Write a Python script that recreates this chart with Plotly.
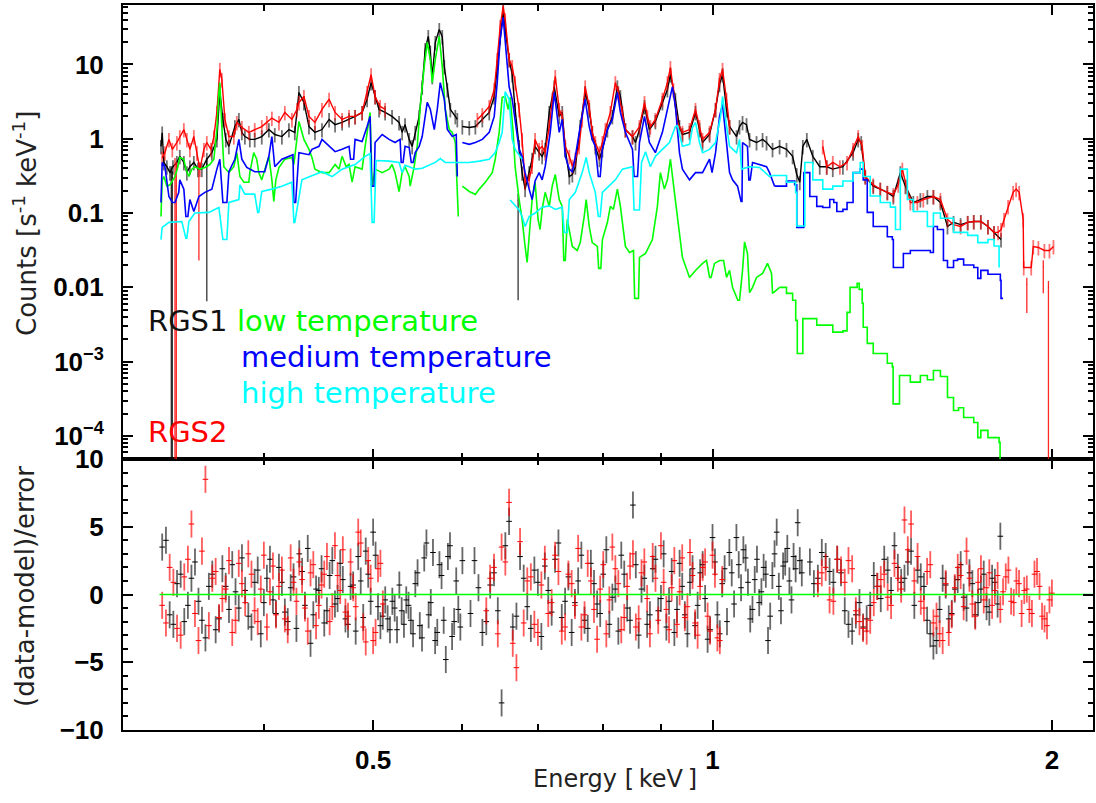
import math
import plotly.graph_objects as go

# ---------------- data (energy keV, counts s^-1 keV^-1) ----------------
rgs1 = [(0.3242,0.79),(0.3250,1.20),(0.3261,0.48),(0.3281,0.42),(0.3302,0.35),(0.3322,0.42),(0.3349,0.48),(0.3369,0.58),(0.3397,0.48),(0.3418,0.35),(0.3439,0.42),(0.3467,0.48),(0.3496,0.39),(0.3524,0.39),(0.3560,0.53),(0.3597,0.65),(0.3634,0.98),(0.3656,4.3),(0.3679,1.82),(0.3701,0.98),(0.3724,0.79),(0.3770,1.46),(0.3801,1.82),(0.3824,1.22),(0.3848,1.07),(0.3887,0.98),(0.3926,0.98),(0.3983,1.07),(0.4041,1.33),(0.4090,1.14),(0.4150,1.07),(0.4210,1.33),(0.4261,1.22),(0.4297,4.2),(0.4341,3.08),(0.4386,1.46),(0.4440,1.22),(0.4504,1.33),(0.4570,1.82),(0.4626,1.55),(0.4693,1.66),(0.4760,1.82),(0.4819,2.0),(0.4889,2.26),(0.4939,3.4),(0.4979,5.7),(0.5020,3.7),(0.5061,2.48),(0.5124,2.26),(0.5197,2.0),(0.5272,1.66),(0.5305,1.22),(0.5337,1.55),(0.5382,0.98),(0.5415,0.79),(0.5449,1.22),(0.5493,2.0),(0.5527,5.0),(0.5561,15.9),(0.5596,23.8),(0.5619,14.7),(0.5642,6.9),(0.5677,19.8),(0.5723,29.6),(0.5758,23.8),(0.5782,9.4),(0.5818,4.6),(0.5854,2.48),(0.5914,2.0),(0.5938,1.82),(None,None),(0.5999,1.46),(0.6085,1.42),(0.6161,1.46),(0.6249,1.82),(0.6338,2.26),(0.6403,3.7),(0.6442,9.4),(0.6481,23.8),(0.6521,52),(0.6548,29.6),(0.6601,11.7),(0.6642,7.3),(0.6682,2.48),(0.6737,0.79),(0.6778,0.35),(0.6820,0.21),(0.6876,0.35),(0.6918,0.53),(0.6960,0.79),(0.7018,0.65),(0.7061,0.58),(0.7105,0.72),(0.7164,2.26),(0.7238,5.0),(0.7312,2.0),(0.7357,2.26),(0.7403,0.72),(0.7464,0.31),(0.7510,0.33),(0.7557,0.42),(0.7632,1.46),(0.7710,4.2),(0.7774,2.48),(0.7822,1.22),(0.7871,0.79),(0.7937,0.53),(0.7986,0.72),(0.8068,1.33),(0.8150,2.0),(0.8234,5.0),(0.8285,3.7),(0.8370,1.33),(0.8492,1.07),(0.8545,0.89),(0.8614,1.33),(0.8703,2.72),(0.8790,1.33),(0.8898,1.71),(0.9027,3.08),(0.9120,4.6),(0.9176,7.3),(0.9270,3.4),(0.9347,1.46),(0.9404,1.14),(0.9541,1.22),(0.9658,2.26),(0.9738,1.33),(0.9798,0.89),(0.9939,1.14),(1.0062,2.48),(1.0144,5.4),(1.0207,7.3),(1.0290,2.48),(1.0354,1.46),(1.0503,1.07),(1.0567,1.46),(1.0632,1.66),(1.0719,1.55),(1.0786,0.98),(1.0940,0.89),(1.1076,0.98),(1.1166,0.89),(1.1304,0.72),(1.1468,0.79),(1.1631,0.72),(1.1777,0.58),(1.1877,0.33),(1.1951,0.26),(1.2025,0.79),(1.2124,0.98),(1.2273,0.58),(1.2448,0.42),(1.2627,0.42),(1.2784,0.39),(1.3051,0.42),(1.3325,0.65),(1.3465,0.98),(1.3548,0.89),(1.3660,0.31),(1.3885,0.23),(1.4086,0.21),(1.4290,0.19),(1.4467,0.167),(1.4675,0.35),(1.4827,0.23),(1.5070,0.139),(1.5288,0.152),(1.5508,0.167),(1.5700,0.167),(1.5927,0.139),(1.6158,0.066),(1.6359,0.075),(1.6597,0.070),(1.6839,0.075),(1.7049,0.077),(1.7297,0.077),(1.7550,0.066),(1.7770,0.055),(1.8026,0.044)]

rgs2 = [(0.3250,0.55),(0.3268,0.65),(0.3295,0.98),(0.3318,0.72),(0.3349,0.89),(0.3369,1.07),(0.3397,1.33),(0.3418,0.98),(0.3439,0.72),(0.3467,1.07),(0.3489,0.65),(0.3510,0.39),(0.3539,0.72),(0.3560,0.89),(0.3590,0.72),(0.3612,1.07),(0.3634,2.26),(0.3656,8.6),(0.3671,6.3),(0.3694,1.82),(0.3724,1.07),(0.3762,1.07),(0.3785,1.66),(0.3824,1.42),(0.3879,1.22),(0.3926,1.33),(0.3983,1.46),(0.4024,1.66),(0.4066,1.9),(0.4125,1.66),(0.4175,2.26),(0.4236,1.82),(0.4279,2.48),(0.4297,3.08),(0.4341,3.7),(0.4386,2.0),(0.4440,1.66),(0.4504,2.48),(0.4570,3.4),(0.4626,2.26),(0.4693,1.82),(0.4760,2.0),(0.4819,2.0),(0.4889,2.26),(0.4939,4.2),(0.4979,7.3),(0.5020,3.7),(0.5072,2.72),(0.5124,2.48),(None,None),(0.6186,1.82),(0.6249,2.12),(0.6338,2.72),(0.6403,4.6),(0.6442,11.7),(0.6481,32.5),(0.6521,60),(0.6548,40),(0.6601,11.7),(0.6642,9.4),(0.6682,5.7),(0.6737,2.48),(0.6778,0.98),(0.6820,0.26),(0.6876,0.28),(0.6918,0.43),(0.6960,0.98),(0.7018,0.72),(0.7061,0.79),(0.7105,0.65),(0.7164,1.46),(0.7208,3.4),(0.7253,6.9),(0.7312,2.48),(0.7357,2.0),(0.7403,0.79),(0.7464,0.58),(0.7510,0.43),(0.7557,0.53),(0.7616,0.79),(0.7663,1.82),(0.7710,5.0),(0.7774,2.72),(0.7822,1.22),(0.7871,0.89),(0.7937,0.65),(0.7986,0.89),(0.8035,1.33),(0.8117,2.26),(0.8200,5.7),(0.8251,4.2),(0.8319,2.26),(0.8370,1.33),(0.8492,1.07),(0.8614,1.46),(0.8703,3.08),(0.8755,2.0),(0.8808,1.46),(0.8898,1.82),(0.9027,3.4),(0.9120,5.7),(0.9176,9.1),(0.9232,4.6),(0.9308,1.66),(0.9404,1.22),(0.9541,1.33),(0.9658,2.48),(0.9738,1.46),(0.9798,0.98),(0.9939,1.22),(1.0062,2.48),(1.0144,6.3),(1.0207,8.6),(1.0290,3.4),(1.0354,1.46),(None,None),(1.2525,0.79),(1.2627,0.42),(1.2784,0.48),(1.2971,0.42),(1.3162,0.48),(1.3325,0.72),(1.3465,1.07),(1.3576,0.79),(1.3660,0.31),(1.3885,0.24),(1.4086,0.21),(1.4290,0.19),(1.4467,0.178),(1.4615,0.24),(1.4735,0.39),(1.4857,0.23),(1.4978,0.139),(1.5194,0.139),(1.5380,0.152),(1.5700,0.167),(1.5927,0.152),(1.6158,0.082),(1.6359,0.070),(1.6597,0.066),(1.6839,0.075),(1.7049,0.077),(1.7297,0.077),(1.7550,0.066),(1.7770,0.055),(1.7917,0.055),(1.8026,0.060),(1.8137,0.082),(1.8287,0.123),(1.8476,0.19),(1.8590,0.21),(1.8706,0.19),(1.8860,0.082),(1.8880,0.0185),(1.9172,0.0185),(1.9252,0.0355),(1.9455,0.0344),(1.9694,0.0314),(1.9899,0.0314),(2.0063,0.0355)]

# points with very long lower error bars: (energy, value, lower end)
rgs1_long = [(0.3311,0.35,1e-5),(0.3318,0.30,1e-5),(0.3560,0.45,0.0065),(0.6723,0.15,0.0067)]
rgs2_long = [(0.3336,0.45,1e-5),(0.3345,0.40,1e-5),(0.3503,0.40,0.023),(1.9000,0.011,0.0045),(1.9650,0.019,0.0083),(1.9858,0.010,1e-5)]

low_T = [(0.3242,0.09),(0.3250,0.28),(0.3261,0.31),(0.3281,0.23),(0.3302,0.24),(0.3336,0.31),(0.3356,0.42),(0.3369,0.56),(0.3397,0.53),(0.3411,0.39),(0.3432,0.31),(0.3453,0.39),(0.3474,0.42),(0.3510,0.39),(0.3546,0.41),(0.3582,0.45),(0.3612,0.53),(0.3634,1.33),(0.3649,4.2),(0.3656,5.7),(0.3671,1.46),(0.3686,0.42),(0.3724,0.35),(0.3762,0.42),(0.3785,0.65),(0.3809,0.31),(0.3840,0.26),(0.3879,0.26),(0.3887,0.35),(0.3918,0.65),(0.3942,0.53),(0.3959,0.35),(0.3983,0.28),(0.4007,0.39),(0.4041,0.58),(0.4066,0.28),(0.4082,0.143),(0.4099,0.28),(0.4125,0.41),(0.4175,0.53),(0.4236,0.56),(0.4253,0.45),(0.4297,1.71),(0.4341,0.98),(0.4386,0.72),(0.4413,0.56),(0.4440,0.39),(0.4504,0.35),(0.4570,0.35),(0.4626,0.45),(0.4664,0.39),(0.4693,0.58),(0.4732,0.42),(0.4760,0.45),(0.4790,0.26),(0.4819,0.42),(0.4889,0.39),(0.4919,0.79),(0.4959,2.12),(0.4969,2.26),(0.4990,0.23),(0.5020,0.39),(0.5093,0.35),(0.5166,0.39),(0.5197,0.45),(0.5229,0.35),(0.5272,0.195),(0.5305,0.35),(0.5337,0.42),(0.5382,0.31),(0.5393,0.23),(0.5437,0.42),(0.5471,0.79),(0.5505,2.72),(0.5550,9.4),(0.5584,19.8),(0.5619,11.7),(0.5642,5.7),(0.5677,11.7),(0.5723,23.8),(0.5758,9.4),(0.5794,2.48),(0.5842,1.33),(0.5878,1.22),(0.5914,0.89),(0.5950,0.09),(None,None),(0.5999,0.23),(0.6085,0.195),(0.6161,0.178),(0.6210,0.21),(0.6287,0.26),(0.6377,0.35),(0.6416,0.53),(0.6468,1.22),(0.6508,3.6),(0.6548,3.7),(0.6588,2.48),(0.6615,3.6),(0.6655,1.22),(0.6682,0.42),(0.6737,0.152),(0.6778,0.082),(0.6820,0.0355),(0.6848,0.0216),(0.6876,0.048),(0.6918,0.152),(0.6960,0.26),(0.7003,0.082),(0.7032,0.060),(0.7061,0.112),(0.7105,0.19),(0.7164,0.123),(0.7208,0.23),(0.7253,0.33),(0.7312,0.152),(0.7357,0.123),(0.7380,0.023),(0.7403,0.023),(0.7433,0.082),(0.7510,0.0355),(0.7586,0.0314),(0.7632,0.040),(0.7695,0.09),(0.7726,0.152),(0.7774,0.066),(0.7822,0.040),(0.7904,0.0355),(0.7925,0.018),(0.7960,0.018),(0.7986,0.044),(0.8068,0.075),(0.8117,0.123),(0.8167,0.112),(0.8234,0.21),(0.8285,0.123),(0.8370,0.0355),(0.8440,0.0295),(0.8509,0.0314),(0.8530,0.0071),(0.8597,0.0071),(0.8614,0.0253),(0.8721,0.0286),(0.8844,0.044),(0.8935,0.123),(0.8990,0.35),(0.9064,0.21),(0.9120,0.28),(0.9176,0.53),(0.9251,0.19),(0.9347,0.055),(0.9404,0.0253),(0.9541,0.0136),(0.9658,0.0169),(0.9798,0.021),(0.9878,0.023),(0.9940,0.0136),(0.9970,0.0136),(1.0041,0.021),(1.0144,0.023),(1.0228,0.023),(1.0290,0.0136),(1.0354,0.0169),(1.0417,0.0100),(1.0530,0.0067),(1.0567,0.0067),(1.0632,0.0169),(1.0676,0.041),(1.0740,0.0286),(1.0786,0.0085),(1.0852,0.010),(1.0940,0.0136),(1.1076,0.0154),(1.1189,0.021),(1.1281,0.0154),(1.1304,0.0083),(1.1468,0.0100),(1.1631,0.0083),(1.1777,0.0067),(1.1852,0.0036),(1.1890,0.00129),(1.2000,0.00129),(1.2025,0.0038),(1.2372,0.0031),(1.2784,0.0025),(1.3051,0.0026),(1.3162,0.0046),(1.3243,0.0100),(1.3436,0.0113),(1.3492,0.0094),(1.3576,0.0061),(1.3604,0.0029),(1.3716,0.00176),(1.3885,0.00129),(1.4290,0.00095),(1.4437,0.00085),(1.4460,0.00027),(1.4615,0.00027),(1.4650,0.00065),(1.4978,0.00053),(1.5288,0.00065),(1.5508,0.00057),(1.5700,0.00076),(1.5927,0.00063),(1.6158,0.00033),(1.6359,0.00022),(1.6528,0.00024),(1.6700,0.000177),(1.7049,0.000152),(1.7190,0.000095),(1.7297,0.000119),(1.7550,0.000095),(1.7954,0.000082),(1.7990,0.00001)]

medium_T = [(0.3242,0.139),(0.3250,0.48),(0.3268,0.42),(0.3295,0.167),(0.3318,0.139),(0.3336,0.139),(0.3362,0.19),(0.3369,0.28),(0.3397,0.21),(0.3411,0.09),(0.3425,0.09),(0.3439,0.152),(0.3467,0.105),(0.3503,0.167),(0.3546,0.19),(0.3597,0.21),(0.3634,0.39),(0.3656,0.53),(0.3679,0.139),(0.3709,0.139),(0.3724,0.36),(0.3770,0.53),(0.3801,0.98),(0.3824,0.53),(0.3863,0.41),(0.3926,0.36),(0.4007,0.36),(0.4041,0.58),(0.4066,1.07),(0.4090,0.42),(0.4150,0.53),(0.4245,0.61),(0.4253,0.139),(0.4268,0.139),(0.4297,0.65),(0.4386,0.61),(0.4413,0.72),(0.4477,0.79),(0.4504,0.98),(0.4598,0.72),(0.4626,0.67),(0.4693,0.72),(0.4760,0.79),(0.4775,0.53),(0.4805,0.53),(0.4819,0.98),(0.4889,0.92),(0.4939,1.46),(0.4969,2.0),(0.4985,0.23),(0.5010,0.23),(0.5020,0.89),(0.5093,1.14),(0.5166,0.98),(0.5229,0.89),(0.5283,0.98),(0.5295,0.48),(0.5315,0.48),(0.5337,0.79),(0.5382,0.76),(0.5405,0.48),(0.5425,0.48),(0.5449,0.65),(0.5493,0.79),(0.5527,1.07),(0.5584,3.08),(0.5619,2.5),(0.5665,1.33),(0.5700,2.5),(0.5735,5.7),(0.5782,3.4),(0.5818,1.33),(0.5878,1.07),(0.5925,1.14),(0.5938,0.31),(None,None),(0.5999,0.89),(0.6085,0.84),(0.6161,0.89),(0.6249,0.98),(0.6338,1.22),(0.6403,2.0),(0.6442,5.7),(0.6481,21.9),(0.6521,43),(0.6548,22),(0.6601,5.0),(0.6642,3.4),(0.6682,1.66),(0.6737,0.72),(0.6778,0.58),(0.6820,0.35),(0.6876,0.21),(0.6918,0.152),(0.6960,0.27),(0.7018,0.35),(0.7061,0.28),(0.7105,0.42),(0.7179,1.22),(0.7238,4.2),(0.7312,1.22),(0.7357,1.82),(0.7403,0.58),(0.7464,0.39),(0.7510,0.36),(0.7557,0.58),(0.7632,1.46),(0.7710,3.4),(0.7774,1.46),(0.7822,0.98),(0.7871,0.79),(0.7920,0.31),(0.7950,0.31),(0.7986,0.72),(0.8068,1.33),(0.8150,1.82),(0.8234,4.2),(0.8285,2.26),(0.8370,1.22),(0.8492,0.72),(0.8520,0.31),(0.8580,0.31),(0.8614,0.89),(0.8703,2.0),(0.8790,0.89),(0.8898,0.65),(0.9027,1.22),(0.9158,3.4),(0.9213,5.0),(0.9270,2.72),(0.9347,0.65),(0.9404,0.39),(0.9541,0.28),(0.9658,0.35),(0.9798,0.35),(0.9939,0.53),(0.9990,0.35),(1.0062,0.65),(1.0144,2.0),(1.0207,2.9),(1.0290,0.98),(1.0354,0.35),(1.0417,0.28),(1.0524,0.23),(1.0600,0.143),(1.0620,0.143),(1.0632,0.89),(1.0740,0.79),(1.0770,0.28),(1.0800,0.28),(1.0852,0.48),(1.1007,0.45),(1.1166,0.42),(1.1235,0.35),(1.1351,0.23),(1.1631,0.27),(1.1827,0.24),(1.1877,0.064),(1.2025,0.064),(1.2050,0.35),(1.2198,0.167),(1.2372,0.123),(1.2525,0.119),(1.2705,0.152),(1.2810,0.139),(1.2890,0.105),(1.3051,0.112),(1.3162,0.139),(1.3325,0.35),(1.3520,0.39),(1.3604,0.28),(1.3716,0.102),(1.3885,0.066),(1.4290,0.048),(1.4437,0.044),(1.4467,0.0185),(1.4675,0.0185),(1.4766,0.0286),(1.4978,0.0314),(1.5604,0.0295),(1.5700,0.066),(1.5829,0.060),(1.6025,0.023),(1.6158,0.0185),(1.6359,0.023),(1.6494,0.024),(1.6700,0.020),(1.7049,0.0185),(1.7190,0.0132),(1.7297,0.0169),(1.7550,0.015),(1.8000,0.0124),(1.8026,0.0071),(1.8100,0.0071)]

high_T = [(0.3242,0.044),(0.3250,0.064),(0.3295,0.075),(0.3383,0.077),(0.3411,0.046),(0.3418,0.046),(0.3432,0.077),(0.3474,0.100),(0.3575,0.102),(0.3649,0.119),(0.3679,0.044),(0.3709,0.044),(0.3724,0.139),(0.3801,0.152),(0.3809,0.24),(0.3848,0.18),(0.3926,0.18),(0.3950,0.102),(0.3959,0.102),(0.3983,0.195),(0.4066,0.21),(0.4150,0.23),(0.4236,0.26),(0.4253,0.075),(0.4261,0.075),(0.4323,0.28),(0.4440,0.33),(0.4504,0.36),(0.4598,0.31),(0.4693,0.39),(0.4819,0.45),(0.4919,0.58),(0.4969,0.63),(0.4990,0.075),(0.5010,0.075),(0.5030,0.51),(0.5166,0.50),(0.5272,0.48),(0.5305,0.35),(0.5337,0.44),(0.5382,0.42),(0.5449,0.39),(0.5527,0.40),(0.5677,0.48),(0.5735,0.54),(0.5794,0.48),(0.5914,0.48),(0.6085,0.48),(0.6210,0.50),(0.6338,0.53),(0.6416,0.65),(0.6468,0.89),(0.6508,1.22),(0.6548,4.3),(0.6601,3.4),(0.6642,0.98),(0.6682,0.72),(0.6778,0.53),(None,None),(0.6615,0.15),(0.6737,0.11),(0.6778,0.09),(0.6820,0.066),(0.6876,0.09),(0.6960,0.10),(0.7061,0.12),(0.7164,0.125),(0.7253,0.112),(0.7357,0.12),(0.7388,0.055),(0.7433,0.055),(0.7464,0.152),(0.7557,0.19),(0.7663,0.35),(0.7726,0.56),(0.7774,0.35),(0.7871,0.19),(0.7920,0.09),(0.7950,0.09),(0.7986,0.19),(0.8100,0.23),(0.8200,0.28),(0.8319,0.39),(0.8492,0.42),(0.8520,0.11),(0.8614,0.11),(0.8650,0.48),(0.8721,0.67),(0.8808,0.42),(0.8898,0.58),(0.9027,0.72),(0.9158,0.89),(0.9270,1.46),(0.9308,1.5),(0.9404,0.79),(0.9541,0.84),(0.9600,1.42),(0.9658,1.66),(0.9738,0.89),(0.9798,0.65),(0.9939,0.72),(1.0062,0.89),(1.0166,2.0),(1.0207,3.7),(1.0290,1.5),(1.0354,0.79),(1.0503,0.65),(1.0567,0.98),(1.0610,0.39),(1.0786,0.42),(1.1007,0.41),(1.1235,0.31),(1.1304,0.32),(1.1631,0.26),(1.1850,0.19),(1.1877,0.067),(1.2025,0.067),(1.2074,0.48),(1.2273,0.28),(1.2525,0.21),(1.2784,0.23),(1.3051,0.27),(1.3325,0.35),(1.3520,0.48),(1.3604,0.31),(1.3800,0.17),(1.4086,0.139),(1.4378,0.12),(1.4530,0.06),(1.4620,0.06),(1.4675,0.39),(1.4887,0.152),(1.5070,0.105),(1.5508,0.066),(1.5700,0.10),(1.5927,0.085),(1.6359,0.055),(1.6839,0.05),(1.7190,0.040),(1.7550,0.044),(1.7770,0.036),(1.7954,0.0185)]

# residuals (data-model)/error, energy keV
res_rgs1_a = [(0.325,3.5),(0.330,-1.5),(0.335,0.8),(0.340,-2.0),(0.345,1.2),(0.350,-0.5),(0.355,-3.2),(0.360,1.5),(0.365,-1.8),(0.370,0.6),(0.375,2.2),(0.380,-1.0),(0.385,0.3),(0.390,-2.4),(0.395,1.8),(0.400,-0.6),(0.405,2.6),(0.410,-1.4),(0.415,0.9),(0.420,-2.0),(0.425,1.3),(0.430,3.0),(0.435,-0.8),(0.440,-3.6),(0.445,0.4),(0.450,1.9),(0.455,-1.2),(0.460,2.5),(0.465,-0.3),(0.470,1.1),(0.475,-2.2),(0.480,0.7),(0.485,2.8),(0.490,-1.7),(0.495,1.5),(0.500,4.6),(0.505,-0.9),(0.510,-1.6),(0.515,-1.8),(0.520,-0.5),(0.525,-2.6),(0.530,-1.2),(0.535,-0.4),(0.540,-1.9),(0.545,0.8),(0.550,-2.3),(0.555,2.7),(0.560,-1.5),(0.565,3.1),(0.570,-2.8),(0.575,1.4),(0.580,-4.8),(0.585,3.6),(0.590,-2.0),(0.595,-1.1),(0.600,2.5),
              (0.61,-1.4),(0.62,0.5),(0.63,-2.0),(0.64,1.6),(0.65,-8.0),(0.66,5.4),(0.67,-1.6),(0.68,1.2),(0.69,-2.5),(0.70,0.9),(0.71,2.1),(0.72,-1.3),(0.73,3.8),(0.74,-0.5),(0.75,-2.8),(0.76,1.0),(0.77,-1.9),(0.78,2.3),(0.79,-0.7),(0.80,1.5),(0.81,-2.2),(0.82,0.4),(0.83,2.9),(0.84,-1.0),(0.85,6.6),(0.86,-3.0),(0.87,1.2),(0.88,-1.5),(0.89,2.6),(0.90,-0.3),(0.91,-2.4),(0.92,1.7),(0.93,-1.1),(0.94,0.6),(0.95,-2.9),(0.96,1.9),(0.97,-0.8),(0.98,2.2),(0.99,-3.3),(1.00,4.2),(1.01,-1.5),(1.02,0.8),(1.03,-2.0),(1.04,1.6),(1.05,4.2),(1.06,0.5),(1.07,2.7),(1.08,-1.8),(1.09,1.1),(1.10,-0.6),(1.11,2.0),(1.12,-3.4),(1.13,1.4),(1.14,4.6),(1.15,-1.2),(1.16,2.4),(1.17,1.0),(1.18,2.8),(1.19,5.3),(1.20,1.6),
              (1.22,2.4),(1.24,1.2),(1.26,2.8),(1.28,0.9),(1.30,1.6),(1.32,-2.2),(1.34,-1.5),(1.36,-2.4),(1.38,-0.8),(1.40,0.6),(1.42,2.6),(1.44,0.3),(1.46,2.0),(1.48,1.2),(1.50,3.2),(1.52,1.8),(1.54,0.6),(1.56,-2.9),(1.58,-3.4),(1.60,1.2),(1.62,-1.8),(1.64,0.4),(1.66,2.2),(1.68,-1.0),(1.70,0.8),(1.72,-0.6),(1.74,1.5),(1.76,-1.3),(1.78,0.9),(1.80,4.3)]

res_rgs1_b = [(0.3275,4.0),(0.3325,-2.2),(0.3375,1.5),(0.3425,-0.8),(0.3475,2.4),(0.3525,-1.9),(0.3575,0.6),(0.3625,-2.6),(0.3675,1.9),(0.3725,-1.1),(0.3775,0.2),(0.3825,2.7),(0.3875,-1.6),(0.3925,0.9),(0.3975,-2.9),(0.4025,1.2),(0.4075,-0.4),(0.4125,2.0),(0.4175,-1.3),(0.4225,0.5),(0.4275,-2.5),(0.4325,1.7),(0.4375,3.4),(0.4425,-1.5),(0.4475,0.3),(0.4525,-2.1),(0.4575,1.4),(0.4625,-0.7),(0.4675,2.3),(0.4725,-1.8),(0.4775,0.6),(0.4825,-2.7),(0.4875,1.0),(0.4925,3.2),(0.4975,-0.5),(0.5025,2.9),(0.5075,-2.3),(0.5125,-0.4),(0.5175,-2.6),(0.5225,-1.0),(0.5275,0.7),(0.5325,-2.2),(0.5375,-0.8),(0.5425,-2.9),(0.5475,1.6),(0.5525,-3.2),(0.5575,3.8),(0.5625,-0.6),(0.5675,-3.4),(0.5725,2.2),(0.5775,-1.9),(0.5825,2.8),(0.5875,-3.1),(0.5925,1.0),(0.5975,-2.4),
              (0.615,2.5),(0.625,-2.8),(0.635,0.7),(0.645,-1.2),(0.655,3.6),(0.665,-2.4),(0.675,2.8),(0.685,-0.9),(0.695,1.8),(0.705,-3.1),(0.715,0.3),(0.725,2.6),(0.735,-1.7),(0.745,1.3),(0.755,-0.6),(0.765,2.9),(0.775,-2.5),(0.785,0.8),(0.795,-1.4),(0.805,3.3),(0.815,-0.2),(0.825,-2.7),(0.835,1.5),(0.845,-1.9),(0.855,2.2),(0.865,0.4),(0.875,-2.2),(0.885,1.9),(0.895,-1.2),(0.905,3.0),(0.915,-0.5),(0.925,-2.8),(0.935,2.3),(0.945,-1.5),(0.955,0.9),(0.965,-2.3),(0.975,1.6),(0.985,-0.3),(0.995,-2.6),(1.005,2.4),(1.015,-2.9),(1.025,1.9),(1.035,3.1),(1.045,-0.7),(1.055,2.2),(1.065,3.3),(1.075,0.9),(1.085,-1.1),(1.095,2.6),(1.105,0.2),(1.115,1.5),(1.125,-1.6),(1.135,3.0),(1.145,0.6),(1.155,2.1),(1.165,3.4),(1.175,-0.4),(1.185,1.9),(1.195,2.5),
              (1.23,0.8),(1.25,3.1),(1.27,1.7),(1.29,2.6),(1.31,-1.2),(1.33,-2.7),(1.35,-0.6),(1.37,-1.8),(1.39,1.4),(1.41,-0.3),(1.43,1.8),(1.45,3.6),(1.47,0.9),(1.49,2.4),(1.51,-0.8),(1.53,1.3),(1.55,-1.9),(1.57,-3.8),(1.59,-1.1),(1.61,0.7),(1.63,-1.4),(1.65,1.1),(1.67,-0.2),(1.69,1.6),(1.71,-1.5),(1.73,0.4),(1.75,-0.9),(1.77,1.2),(1.79,-0.7)]

res_rgs2_a = [(0.325,-0.8),(0.330,2.0),(0.335,-2.5),(0.340,1.3),(0.345,5.2),(0.350,-3.4),(0.355,8.5),(0.360,1.2),(0.365,-1.7),(0.370,0.4),(0.375,-2.8),(0.380,2.3),(0.385,-0.6),(0.390,1.5),(0.395,-2.0),(0.400,2.9),(0.405,0.2),(0.410,-1.5),(0.415,1.8),(0.420,-2.6),(0.425,0.9),(0.430,2.4),(0.435,-1.0),(0.440,1.6),(0.445,-2.3),(0.450,0.7),(0.455,2.8),(0.460,-0.9),(0.465,1.4),(0.470,3.3),(0.475,-1.6),(0.480,0.5),(0.485,4.6),(0.490,-2.4),(0.495,2.5),(0.500,-3.4),(0.505,1.9),(0.510,-0.7),
              (0.63,-1.2),(0.64,2.0),(0.65,3.5),(0.66,6.8),(0.67,-5.4),(0.68,-2.1),(0.69,1.3),(0.70,-2.8),(0.71,2.6),(0.72,-0.6),(0.73,1.7),(0.74,-2.4),(0.75,0.8),(0.76,3.4),(0.77,-1.5),(0.78,1.0),(0.79,-3.3),(0.80,2.2),(0.81,-0.4),(0.82,1.9),(0.83,-2.6),(0.84,0.6),(0.85,3.0),(0.86,-1.8),(0.87,2.4),(0.88,-2.9),(0.89,1.2),(0.90,3.6),(0.91,-1.1),(0.92,0.5),(0.93,-2.2),(0.94,2.7),(0.95,-0.9),(0.96,1.4),(0.97,-3.0),(0.98,2.0),(0.99,-1.6),(1.00,2.9),(1.01,-3.2),(1.02,1.1),
              (1.24,0.8),(1.26,2.0),(1.28,-0.5),(1.30,1.8),(1.32,2.5),(1.34,-1.2),(1.36,-2.5),(1.38,-1.9),(1.40,0.6),(1.42,1.5),(1.44,-0.8),(1.46,1.2),(1.48,5.5),(1.50,5.2),(1.52,2.8),(1.54,-1.0),(1.56,2.2),(1.58,-1.6),(1.60,-3.4),(1.62,-2.8),(1.64,0.5),(1.66,1.4),(1.68,3.2),(1.70,-0.7),(1.72,0.9),(1.74,-0.4),(1.76,1.6),(1.78,0.3),(1.80,-1.1),(1.82,1.3),(1.84,-0.5),(1.86,1.0),(1.88,-1.4),(1.90,0.4),(1.92,-1.4),(1.94,1.7),(1.96,-1.6),(1.98,-2.3),(2.00,0.1)]

res_rgs2_b = [(0.3275,-2.1),(0.3325,0.9),(0.3375,-3.0),(0.3425,2.6),(0.3475,-1.4),(0.3525,3.2),(0.3575,-2.3),(0.3625,1.7),(0.3675,-0.3),(0.3725,2.5),(0.3775,-1.9),(0.3825,0.8),(0.3875,3.0),(0.3925,-1.2),(0.3975,0.4),(0.4025,-2.4),(0.4075,2.1),(0.4125,0.6),(0.4175,-1.8),(0.4225,2.7),(0.4275,-0.5),(0.4325,1.1),(0.4375,-2.7),(0.4425,2.2),(0.4475,-0.8),(0.4525,1.5),(0.4575,-2.0),(0.4625,3.6),(0.4675,0.3),(0.4725,-1.3),(0.4775,2.4),(0.4825,-0.9),(0.4875,3.8),(0.4925,-3.5),(0.4975,1.2),(0.5025,-2.8),(0.5075,2.3),
              (0.635,1.2),(0.645,-2.9),(0.655,2.4),(0.665,-3.6),(0.675,3.9),(0.685,1.0),(0.695,-2.2),(0.705,0.7),(0.715,-1.4),(0.725,2.9),(0.735,-2.7),(0.745,1.5),(0.755,-0.8),(0.765,-2.4),(0.775,2.3),(0.785,-1.1),(0.795,0.4),(0.805,-2.9),(0.815,3.5),(0.825,0.8),(0.835,-1.7),(0.845,2.1),(0.855,-2.4),(0.865,1.6),(0.875,-0.3),(0.885,2.8),(0.895,-1.9),(0.905,0.9),(0.915,-2.6),(0.925,2.5),(0.935,0.2),(0.945,-1.7),(0.955,3.1),(0.965,-2.1),(0.975,0.6),(0.985,2.4),(0.995,-2.7),(1.005,1.5),(1.015,-3.4),
              (1.25,1.6),(1.27,-0.4),(1.29,2.6),(1.31,0.9),(1.33,1.9),(1.35,-2.0),(1.37,-2.7),(1.39,-0.6),(1.41,1.1),(1.43,-0.2),(1.45,2.3),(1.47,0.4),(1.49,3.3),(1.51,1.0),(1.53,-0.5),(1.55,1.7),(1.57,-2.1),(1.59,-2.9),(1.61,0.8),(1.63,-1.5),(1.65,2.0),(1.67,-0.9),(1.69,1.2),(1.71,-1.6),(1.73,1.9),(1.75,0.5),(1.77,-0.8),(1.79,1.4),(1.81,0.2),(1.83,1.8),(1.85,-0.6),(1.87,0.8),(1.89,0.3),(1.91,-1.1),(1.93,1.5),(1.95,0.6),(1.97,-1.8),(1.99,-0.4)]

res_rgs1 = res_rgs1_a + res_rgs1_b
res_rgs2 = res_rgs2_a + res_rgs2_b

x_ticks = [0.5, 1, 2]
x_minor = [0.4, 0.6, 0.7, 0.8, 0.9]
y_ticks = [1e-4, 1e-3, 0.01, 0.1, 1, 10]
y_ticktext = ["10<sup>−4</sup>", "10<sup>−3</sup>", "0.01", "0.1", "1", "10"]
r_ticks = [-10, -5, 0, 5, 10]
r_ticktext = ["−10", "−5", "0", "5", "10"]

# ---------------- styling ----------------
ERR_FRAC = 0.22
STEP_FROM = 1.15   # coarse histogram bins drawn as steps above this energy
TICK_FONT = "Liberation Sans, Arial, Helvetica, sans-serif"
TEXT_FONT = "DejaVu Sans, Liberation Sans, sans-serif"
GREEN, BLUE, CYAN = "#00ff00", "#0000ff", "#00ffff"
SPLIT = (730 - 459) / 725.0


def cols(pairs):
    return [p[0] for p in pairs], [p[1] for p in pairs]


fig = go.Figure()

for pairs, col, ecol in [(rgs1, "black", "rgba(0,0,0,0.55)"), (rgs2, "red", "rgba(255,0,0,0.55)")]:
    xs, ys = cols(pairs)
    err = [None if y is None else y * ERR_FRAC for y in ys]
    fig.add_trace(go.Scatter(x=xs, y=ys, mode="lines", xaxis="x2", yaxis="y",
                             line=dict(color=col, width=1.4), connectgaps=False,
                             error_y=dict(type="data", array=err, color=ecol, thickness=1.8, width=0),
                             showlegend=False, hoverinfo="skip"))

for pts, col in [(rgs1_long, "rgba(0,0,0,0.8)"), (rgs2_long, "rgba(255,0,0,0.85)")]:
    xs = [p[0] for p in pts]
    ys = [p[1] for p in pts]
    fig.add_trace(go.Scatter(x=xs, y=ys, mode="markers", xaxis="x2", yaxis="y",
                             marker=dict(size=1, color=col),
                             error_y=dict(type="data", symmetric=False,
                                          array=[p[1] * ERR_FRAC for p in pts],
                                          arrayminus=[p[1] - p[2] for p in pts],
                                          color=col, thickness=1.3, width=0),
                             showlegend=False, hoverinfo="skip"))

for pairs, col in [(low_T, GREEN), (medium_T, BLUE), (high_T, CYAN)]:
    k = next(i for i, p in enumerate(pairs) if p[0] is not None and p[0] >= STEP_FROM)
    for part, shape in [(pairs[:k], "linear"), (pairs[k - 1:], "hv")]:
        xs, ys = cols(part)
        fig.add_trace(go.Scatter(x=xs, y=ys, mode="lines", xaxis="x2", yaxis="y",
                                 line=dict(color=col, width=1.6, shape=shape), connectgaps=False,
                                 showlegend=False, hoverinfo="skip"))

for pairs, col, ecol in [(res_rgs1, "black", "rgba(0,0,0,0.6)"), (res_rgs2, "red", "rgba(255,0,0,0.65)")]:
    xs, ys = cols(pairs)
    fig.add_trace(go.Scatter(x=xs, y=ys, mode="markers", xaxis="x", yaxis="y2",
                             marker=dict(symbol="line-ew", size=4, line=dict(color=col, width=1)),
                             error_y=dict(type="constant", value=1, color=ecol, thickness=1.8, width=0),
                             showlegend=False, hoverinfo="skip"))

fig.add_trace(go.Scatter(x=[0.3232, 2.175], y=[0, 0], mode="lines", xaxis="x", yaxis="y2",
                         line=dict(color=GREEN, width=1.6), showlegend=False, hoverinfo="skip"))

tickfont = dict(family=TICK_FONT, size=26, color="black", weight="bold")
common = dict(showline=True, linecolor="black", linewidth=2, mirror="allticks",
              ticks="inside", tickcolor="black", tickwidth=2, showgrid=False, zeroline=False,
              tickfont=tickfont, automargin=False)
xr = [math.log10(0.3), math.log10(2.175)]
xminor = dict(tickvals=x_minor, ticks="inside", ticklen=6, tickwidth=1.5, tickcolor="black", showgrid=False)

y_minor_vals = [m * 10 ** e for e in range(-5, 2) for m in range(2, 10)]

fig.update_layout(
    width=1096, height=803,
    margin=dict(l=123, r=3, t=5, b=73, autoexpand=False),
    paper_bgcolor="white", plot_bgcolor="white",
    xaxis=dict(domain=[0, 1], anchor="y2", type="log", range=xr,
               tickvals=x_ticks, ticktext=["0.5", "1", "2"], ticklen=10,
               ticklabelstandoff=6, minor=xminor, **common),
    xaxis2=dict(domain=[0, 1], anchor="y", type="log", range=xr, matches="x",
                tickvals=x_ticks, ticklen=10, showticklabels=False, minor=xminor, **common),
    yaxis=dict(domain=[SPLIT, 1], anchor="x2", type="log", range=[-4.31, 1.80],
               tickvals=y_ticks, ticktext=y_ticktext, ticklen=10, ticklabelstandoff=12,
               minor=dict(tickvals=y_minor_vals, ticks="inside", ticklen=5, tickwidth=1.5,
                          tickcolor="black", showgrid=False), **common),
    yaxis2=dict(domain=[0, SPLIT], anchor="x", range=[-10, 10],
                tickvals=r_ticks, ticktext=r_ticktext, ticklen=10, ticklabelstandoff=12,
                minor=dict(dtick=1, ticks="inside", ticklen=5, tickwidth=1.5,
                           tickcolor="black", showgrid=False), **common),
)


def px2paper(px, py):
    return (px - 123) / 970.0, (730 - py) / 725.0


annots = []
title_font = dict(family=TEXT_FONT, size=26, color="#222222")
x, y = px2paper(25, 224)
annots.append(dict(text="Counts [s<sup>-1</sup> keV<sup>-1</sup>]", x=x, y=y, textangle=-90, font=title_font))
x, y = px2paper(25, 587)
annots.append(dict(text="(data-model)/error", x=x, y=y, textangle=-90, font=title_font))
x, y = px2paper(615, 779)
annots.append(dict(text="Energy [\u2009keV\u2009]", x=x, y=y,
                   font=dict(family=TEXT_FONT, size=24, color="#222222")))
for ann in annots:
    ann.update(xref="paper", yref="paper", showarrow=False, xanchor="center", yanchor="middle")

leg_font = 29
legend_items = [("RGS1", "#111111", 146, 321), ("low temperature", GREEN, 235, 321),
                ("medium temperature", BLUE, 239, 357), ("high temperature", CYAN, 239, 393),
                ("RGS2", "red", 146, 432)]
for text, col, px, py in legend_items:
    x, y = px2paper(px, py)
    annots.append(dict(text=text, x=x, y=y, xref="paper", yref="paper", showarrow=False,
                       xanchor="left", yanchor="middle",
                       font=dict(family=TEXT_FONT, size=leg_font, color=col)))

fig.update_layout(annotations=annots)
fig.write_html("out.html")
